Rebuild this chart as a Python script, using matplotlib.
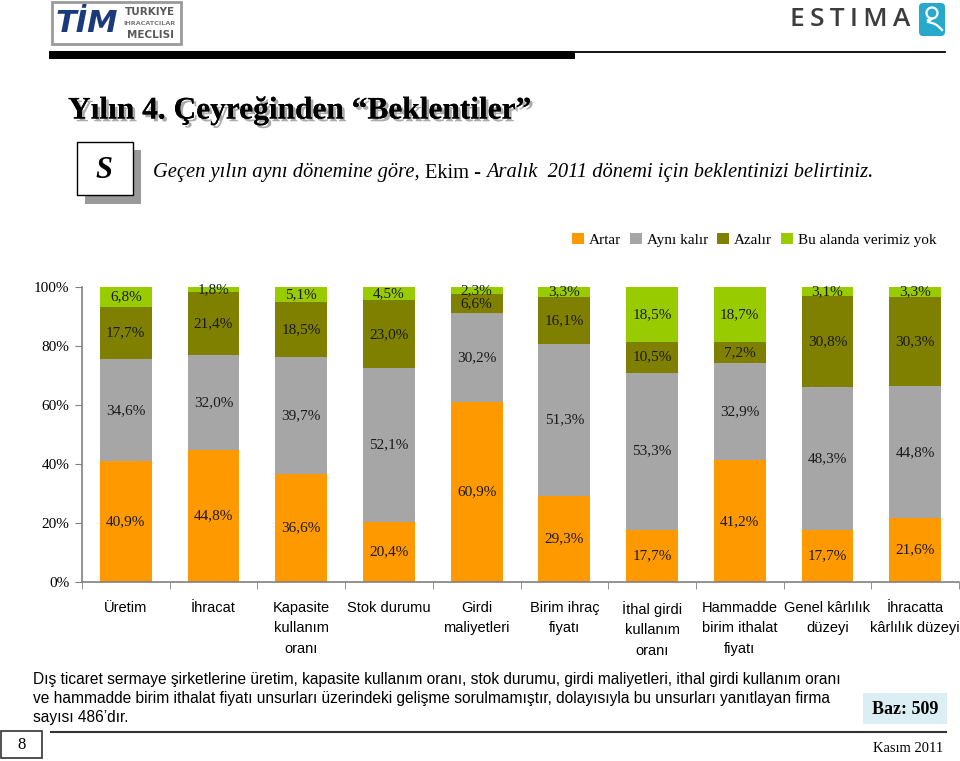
import numpy as np
import matplotlib
matplotlib.use('Agg')
import matplotlib.pyplot as plt
import matplotlib.transforms as mtrans
from matplotlib.patches import Rectangle, FancyBboxPatch, Circle
import matplotlib.patheffects as pe

# kategoriler (x ekseni)
kategoriler = [
    'Üretim', 'İhracat', 'Kapasite\nkullanım\noranı', 'Stok durumu',
    'Girdi\nmaliyetleri', 'Birim ihraç\nfiyatı', 'İthal girdi\nkullanım\noranı',
    'Hammadde\nbirim ithalat\nfiyatı', 'Genel kârlılık\ndüzeyi',
    'İhracatta\nkârlılık düzeyi',
]

seri_adlari = ['Artar', 'Aynı kalır', 'Azalır', 'Bu alanda verimiz yok']
artar = [40.9, 44.8, 36.6, 20.4, 60.9, 29.3, 17.7, 41.2, 17.7, 21.6]
ayni_kalir = [34.6, 32.0, 39.7, 52.1, 30.2, 51.3, 53.3, 32.9, 48.3, 44.8]
azalir = [17.7, 21.4, 18.5, 23.0, 6.6, 16.1, 10.5, 7.2, 30.8, 30.3]
veri_yok = [6.8, 1.8, 5.1, 4.5, 2.3, 3.3, 18.5, 18.7, 3.1, 3.3]

renkler = ['#FF9900', '#A6A6A6', '#808000', '#99CC00']

SERIF = 'Liberation Serif'
NARROW = ['Liberation Sans Narrow', 'Liberation Sans', 'DejaVu Sans']

W, H = 960, 761
fig = plt.figure(figsize=(W / 100, H / 100), dpi=100)

# sayfa dekorasyonu (piksel koordinatlari)
bg = fig.add_axes([0, 0, 1, 1])
bg.set_xlim(0, W)
bg.set_ylim(H, 0)
bg.axis('off')

# TIM logosu
bg.add_patch(Rectangle((52, 2), 129, 42, facecolor='white', edgecolor='#9a9a9a', lw=2))
bg.text(87, 24, 'TİM', fontsize=22, fontweight='heavy', fontstyle='italic',
        color='#1b3a7a', ha='center', va='center', family='DejaVu Sans')
bg.text(150, 12, 'TURKIYE', fontsize=7.5, fontweight='bold', color='#5a5a5a',
        ha='center', va='center', family='DejaVu Sans')
bg.text(150, 23.5, 'IHRACATCILAR', fontsize=4.6, fontweight='bold', color='#7a7a7a',
        ha='center', va='center', family='DejaVu Sans')
bg.text(150, 35, 'MECLISI', fontsize=7.5, fontweight='bold', color='#5a5a5a',
        ha='center', va='center', family='DejaVu Sans')

# ESTIMA logosu
bg.text(910, 19, '\u2009'.join('ESTIMA'), fontsize=19, fontweight='semibold', color='#3c3c3c',
        ha='right', va='center', family=['Open Sans', 'DejaVu Sans'])
bg.add_patch(FancyBboxPatch((919, 3), 26, 33, boxstyle='round,pad=0,rounding_size=4',
                            facecolor='#27A9CB', edgecolor='none'))
bg.add_patch(Circle((932, 13), 5.5, facecolor='none', edgecolor='white', lw=1.6))
t = np.linspace(0, 1, 30)
bg.plot(928 + 14 * t, 20 + 10 * t ** 0.5 - 3 * np.sin(t * np.pi), color='white', lw=1.6)
bg.plot([932, 928], [18.5, 22], color='white', lw=1.6)

# ust cizgiler
bg.add_patch(Rectangle((49, 50.5), 526, 8.5, facecolor='black', edgecolor='none'))
bg.plot([575, 945], [51.5, 51.5], color='black', lw=1.3)

# baslik
bg.text(68, 111, 'Yılın 4. Çeyreğinden “Beklentiler”', fontsize=22.6, fontweight='bold',
        family=SERIF, ha='left', va='center',
        path_effects=[pe.withSimplePatchShadow(offset=(2, -2), shadow_rgbFace='#888888', alpha=0.7),
                      pe.Normal()])

# S kutusu
bg.add_patch(Rectangle((85, 150), 56, 54, facecolor='#9a9a9a', edgecolor='none'))
bg.add_patch(Rectangle((77, 142), 56, 53, facecolor='white', edgecolor='black', lw=1))
bg.text(104, 171, 'S', fontsize=22, fontstyle='italic', fontweight='bold', family=SERIF,
        ha='center', va='center')

# alt baslik
fs_alt = 14.8
t1 = bg.text(153, 173, 'Geçen yılın aynı dönemine göre, ', fontsize=fs_alt, fontstyle='italic',
             family=SERIF, ha='left', va='center')
fig.canvas.draw()
r = fig.canvas.get_renderer()
karisik = mtrans.blended_transform_factory(mtrans.IdentityTransform(), bg.transData)
t2 = bg.text(t1.get_window_extent(r).x1, 173, 'Ekim - ', fontsize=fs_alt, family=SERIF,
             ha='left', va='center', transform=karisik)
bg.text(t2.get_window_extent(r).x1, 173, 'Aralık  2011 dönemi için beklentinizi belirtiniz.',
        fontsize=fs_alt, fontstyle='italic', family=SERIF, ha='left', va='center',
        transform=karisik)

# grafik
ax_left, ax_right, ax_top, ax_bot = 82, 959, 287, 582
ax = fig.add_axes([ax_left / W, 1 - ax_bot / H, (ax_right - ax_left) / W, (ax_bot - ax_top) / H])
ax.set_facecolor('none')

seriler = np.array([artar, ayni_kalir, azalir, veri_yok])
toplam = seriler.sum(axis=0)
oran = seriler / toplam * 100

x = np.arange(len(kategoriler))
alt = np.zeros(len(kategoriler))
for i, ad in enumerate(seri_adlari):
    bars = ax.bar(x, oran[i], bottom=alt, width=0.59, color=renkler[i], label=ad)
    etiketler = [f'{v:.1f}%'.replace('.', ',') for v in seriler[i]]
    ax.bar_label(bars, labels=etiketler, label_type='center', fontsize=11,
                 family=SERIF, color='#1a1a1a')
    alt += oran[i]

ax.set_xlim(-0.5, len(kategoriler) - 0.5)
ax.set_ylim(0, 100)
ax.set_yticks([0, 20, 40, 60, 80, 100])
ax.set_yticklabels([f'{v}%' for v in [0, 20, 40, 60, 80, 100]], family=SERIF, fontsize=11)
ax.set_xticks(x)
ax.set_xticklabels(kategoriler, family=NARROW, fontsize=10.5, linespacing=1.55, va='top')
ax.set_xticks(np.arange(len(kategoriler) + 1) - 0.5, minor=True)
ax.tick_params(axis='x', which='major', length=0, pad=14)
ax.tick_params(axis='x', which='minor', length=5, color='#808080', direction='out')
ax.tick_params(axis='y', length=5, color='#808080', direction='out', pad=4)
for s in ['top', 'right']:
    ax.spines[s].set_visible(False)
for s in ['left', 'bottom']:
    ax.spines[s].set_color('#808080')
    ax.spines[s].set_linewidth(1.2)

# lejant
h, l = ax.get_legend_handles_labels()
fig.legend(h, l, loc='center right', bbox_to_anchor=(943 / W, 1 - 240 / H), ncol=4,
           frameon=False, prop={'family': SERIF, 'size': 11}, handlelength=0.75,
           handleheight=0.75, handletextpad=0.35, columnspacing=0.6, borderaxespad=0)

# dipnot
dipnot = ('Dış ticaret sermaye şirketlerine üretim, kapasite kullanım oranı, stok durumu, girdi maliyetleri, ithal girdi kullanım oranı\n'
          've hammadde birim ithalat fiyatı unsurları üzerindeki gelişme sorulmamıştır, dolayısıyla bu unsurları yanıtlayan firma\n'
          'sayısı 486’dır.')
bg.text(33, 672, dipnot, fontsize=11.2, family=NARROW, ha='left', va='top', linespacing=1.32)

# Baz kutusu
bg.add_patch(Rectangle((863, 693), 84, 31, facecolor='#DAEEF3', edgecolor='none'))
bg.text(905, 709, 'Baz: 509', fontsize=13, fontweight='bold', family=SERIF, ha='center', va='center')

# alt cizgi ve sayfa numarasi
bg.plot([51, 946], [732, 732], color='#333333', lw=1.5)
bg.add_patch(Rectangle((1, 731), 41, 27, facecolor='white', edgecolor='#333333', lw=1.2))
bg.text(21.5, 745, '8', fontsize=12, family=SERIF, ha='center', va='center')
bg.text(943, 748, 'Kasım 2011', fontsize=10.5, family=SERIF, ha='right', va='center')

fig.savefig('out.png', dpi=100)
